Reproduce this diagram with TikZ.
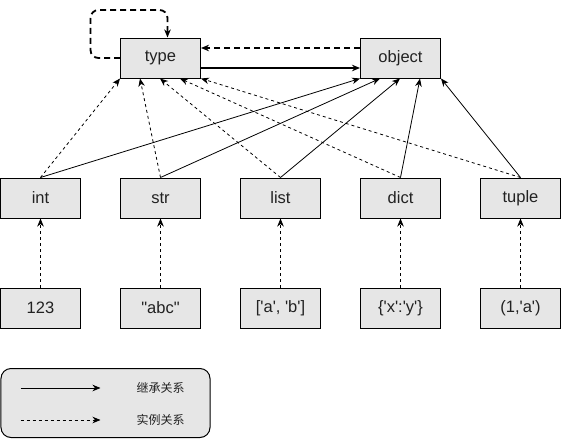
\documentclass[tikz,border=0pt]{standalone}
\usepackage{fontspec}
\setmainfont{Liberation Sans}[Ligatures=TeXOff]
\newfontfamily\cjk{Noto Sans CJK SC}
\usetikzlibrary{arrows.meta}
\definecolor{boxgray}{HTML}{E6E6E6}
\definecolor{txt}{HTML}{222222}
\tikzset{
  cls/.style={draw, fill=boxgray, line width=1pt, minimum width=80pt, minimum height=40pt, inner sep=0pt, text=txt, font=\fontsize{16.5}{19}\selectfont},
  tip/.style={-{Stealth[length=8pt,width=6.5pt,inset=2.5pt]}},
  inherit/.style={tip, line width=0.8pt},
  inst/.style={tip, line width=0.8pt, dash pattern=on 3pt off 3pt},
  thickinherit/.style={tip, line width=1.8pt},
  thickinst/.style={tip, line width=1.8pt, dash pattern=on 6pt off 4pt},
}
\begin{document}
\begin{tikzpicture}[x=1pt,y=-1pt]
\useasboundingbox (-0.5,0) rectangle (560.5,439);
% top
\node[cls] (type) at (160,58) {type};
\node[cls] (object) at (400,58) {object};
% row 1
\node[cls] (int) at (40,198) {int};
\node[cls] (str) at (160,198) {str};
\node[cls] (list) at (280,198) {list};
\node[cls] (dict) at (400,198) {dict};
\node[cls] (tuple) at (520,198) {tuple};
% row 2
\node[cls] (i123) at (40,308) {123};
\node[cls] (sabc) at (160,308) {"abc"};
\node[cls] (lab) at (280,308) {['a', 'b']};
\node[cls] (dxy) at (400,308) {\{'x':'y'\}};
\node[cls] (t1a) at (520,308) {(1,'a')};
% self loop
\coordinate (la) at (90,58);
\coordinate (lb) at (90,10);
\coordinate (lc) at (167,10);
\draw[thickinst, rounded corners=8pt] (type.west) -- (la) -- (lb) -- (lc) -- ([xshift=7pt]type.north);
% type <-> object
\draw[thickinst] ([yshift=10pt]object.west) -- ([yshift=10pt]type.east);
\draw[thickinherit] ([yshift=-10pt]type.east) -- ([yshift=-10pt]object.west);
% instance arrows to type
\draw[inst] (int.north) -- (type.south west);
\draw[inst] (str.north) -- ([xshift=20pt]type.south west);
\draw[inst] (list.north) -- ([xshift=40pt]type.south west);
\draw[inst] (dict.north) -- ([xshift=60pt]type.south west);
\draw[inst] (tuple.north) -- (type.south east);
% inheritance to object
\draw[inherit] (int.north) -- (object.south west);
\draw[inherit] (str.north) -- ([xshift=20pt]object.south west);
\draw[inherit] (list.north) -- ([xshift=40pt]object.south west);
\draw[inherit] (dict.north) -- ([xshift=60pt]object.south west);
\draw[inherit] (tuple.north) -- (object.south east);
% instances
\draw[inst] (i123.north) -- (int.south);
\draw[inst] (sabc.north) -- (str.south);
\draw[inst] (lab.north) -- (list.south);
\draw[inst] (dxy.north) -- (dict.south);
\draw[inst] (t1a.north) -- (tuple.south);
% legend
\node[draw, fill=boxgray, line width=1pt, rounded corners=10pt, minimum width=209pt, minimum height=69pt, inner sep=0pt] (legend) at (105,403) {};
\coordinate (l1a) at (20,388);
\coordinate (l1b) at (100,388);
\coordinate (l2a) at (20,420);
\coordinate (l2b) at (100,420);
\draw[inherit] (l1a) -- (l1b);
\draw[inst] (l2a) -- (l2b);
\node[text=txt, font=\cjk\fontsize{12}{14}\selectfont] (t1) at (160,388) {继承关系};
\node[text=txt, font=\cjk\fontsize{12}{14}\selectfont] (t2) at (160,420) {实例关系};
\end{tikzpicture}
\end{document}
